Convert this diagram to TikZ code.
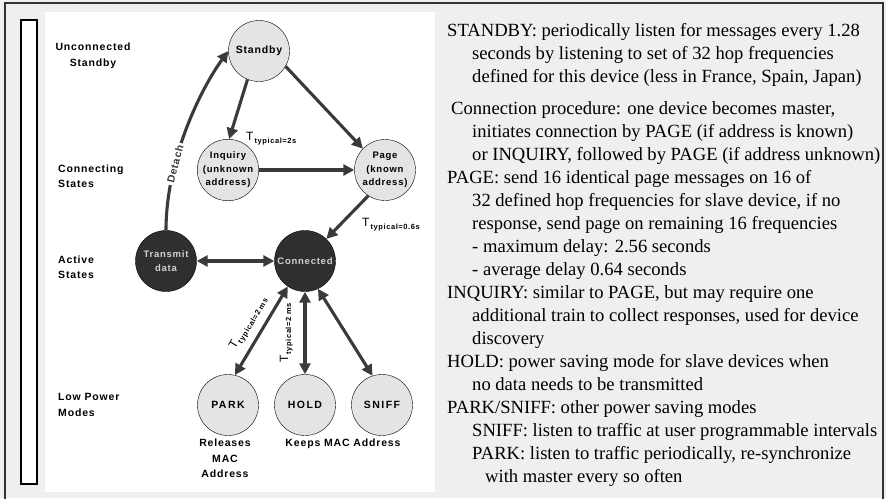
\documentclass[tikz,border=0pt]{standalone}
\usepackage{fontspec}
\setmainfont{Liberation Serif}
\newfontfamily\diagfont[LetterSpace=8]{Liberation Sans}
\newfontfamily\widefont[LetterSpace=14]{Liberation Sans}
\usetikzlibrary{arrows.meta}
\definecolor{linegray}{HTML}{3A3A3A}
\definecolor{pagegray}{HTML}{EFEFEF}
\definecolor{nodegray}{HTML}{E4E4E4}
\definecolor{darknode}{HTML}{2F2F2F}

\begin{document}
\begin{tikzpicture}[x=1pt,y=-1pt]
      \tikzstyle state=[circle, draw=black, thin, fill=nodegray, minimum size=61pt,
      inner sep=0pt, align=center, font=\diagfont\bfseries\fontsize{9.5}{13.5}\selectfont]
      \tikzstyle darkstate=[state, fill=darknode, text=white!82!black]
      \tikzstyle modestate=[state, font=\widefont\bfseries\fontsize{10.5}{12}\selectfont]
      \tikzstyle rowlabel=[align=left, inner sep=0pt, font=\diagfont\bfseries\fontsize{10.5}{15.5}\selectfont]
      \tikzstyle trans=[linegray, line width=3.1pt, -{Triangle[length=11pt,width=11pt]}]
      \tikzstyle twoway=[trans, {Triangle[length=11pt,width=11pt]}-{Triangle[length=11pt,width=11pt]}]
      \tikzstyle timing=[inner sep=1pt, font=\diagfont\fontsize{12}{12}\selectfont]
      \newcommand{\typical}[1]{T\kern1pt\raisebox{-3pt}{\bfseries\fontsize{7.5}{8}\selectfont #1}}
      \useasboundingbox (0,0) rectangle (886,498);
      \fill [pagegray] (0,0) rectangle (886,498);
      \draw [black!6, step=36pt] (0,0) grid (886,498);
      \fill [white] (45,12) rectangle (435,492);
      \draw [black, line width=1.3pt, fill=white] (21,20) rectangle (37,484);
      \draw [black!80, line width=1.3pt] (5,505) -- (5,3) -- (883,3) -- (883,505);
      \node [state, font=\diagfont\bfseries\fontsize{10.5}{12}\selectfont] (standby) at (259,51) {Standby};
      \node [state] (inquiry) at (228,170) {Inquiry\\(unknown\\address)};
      \node [state] (page) at (385,170) {Page\\(known\\address)};
      \node [darkstate] (transmit) at (166,261) {Transmit\\data};
      \node [darkstate] (connected) at (305,261) {Connected};
      \node [modestate] (park) at (228,405) {PARK};
      \node [modestate] (hold) at (305,405) {HOLD};
      \node [modestate] (sniff) at (382,405) {SNIFF};
      \node [rowlabel, align=center] (unconnected) at (93,56) {Unconnected\\Standby};
      \node [rowlabel, anchor=west] (connecting) at (58,176) {Connecting\\States};
      \node [rowlabel, anchor=west] (activestates) at (58,267) {Active\\States};
      \node [rowlabel, anchor=west] (lowpower) at (58,405) {Low Power\\Modes};
      \node [rowlabel, align=center, anchor=north] (releases) at (225,439) {Releases\\MAC\\Address};
      \node [rowlabel, anchor=north] (keeps) at (343,439) {Keeps MAC Address};
      \draw [trans] (standby.-112) -- (inquiry.88);
      \draw [trans] (standby.-30) -- (page.136);
      \draw [trans] (inquiry.east) -- (page.west);
      \draw [trans] (page.237) -- (connected.46);
      \draw [twoway] (transmit.east) -- (connected.west);
      \draw [twoway] (connected.236) -- (park.77);
      \draw [twoway] (connected.south) -- (hold.north);
      \draw [twoway] (connected.-65) -- (sniff.108);
      \draw [trans] (transmit.north) .. controls (166,160) and (200,90) .. (standby.west)
        node [pos=0.32, sloped, fill=white, inner sep=2pt,
        font=\diagfont\bfseries\fontsize{10.5}{12}\selectfont] (detach) {Detach};
      \node [timing, anchor=base west] (tinquiry) at (245,140) {\typical{typical=2s}};
      \node [timing, anchor=base west] (tpage) at (361,226) {\typical{typical=0.6s}};
      \path (park.77) -- (connected.236)
        node [timing, sloped, above=7pt, pos=0.5] (tpark) {\typical{typical=2 ms}};
      \path (hold.north) -- (connected.south)
        node [timing, sloped, above=11pt, pos=0.5] (thold) {\typical{typical=2 ms}};
      \node [anchor=north west, inner sep=0pt, align=left,
        font=\fontsize{18.6}{23}\selectfont] (notes) at (447,23.5)
        {STANDBY: periodically listen for messages every 1.28\\
        \hspace*{25pt}seconds by listening to set of 32 hop frequencies\\
        \hspace*{25pt}defined for this device (less in France, Spain, Japan)\\[8.5pt]
        \hspace*{4pt}Connection procedure: one device becomes master,\\
        \hspace*{25pt}initiates connection by PAGE (if address is known)\\
        \hspace*{25pt}or INQUIRY, followed by PAGE (if address unknown)\\
        PAGE: send 16 identical page messages on 16 of\\
        \hspace*{25pt}32 defined hop frequencies for slave device, if no\\
        \hspace*{25pt}response, send page on remaining 16 frequencies\\
        \hspace*{25pt}- maximum delay: 2.56 seconds\\
        \hspace*{25pt}- average delay 0.64 seconds\\
        INQUIRY: similar to PAGE, but may require one\\
        \hspace*{25pt}additional train to collect responses, used for device\\
        \hspace*{25pt}discovery\\
        HOLD: power saving mode for slave devices when\\
        \hspace*{25pt}no data needs to be transmitted\\
        PARK/SNIFF: other power saving modes\\
        \hspace*{25pt}SNIFF: listen to traffic at user programmable intervals\\
        \hspace*{25pt}PARK: listen to traffic periodically, re-synchronize\\
        \hspace*{38pt}with master every so often};
\end{tikzpicture}
\end{document}
